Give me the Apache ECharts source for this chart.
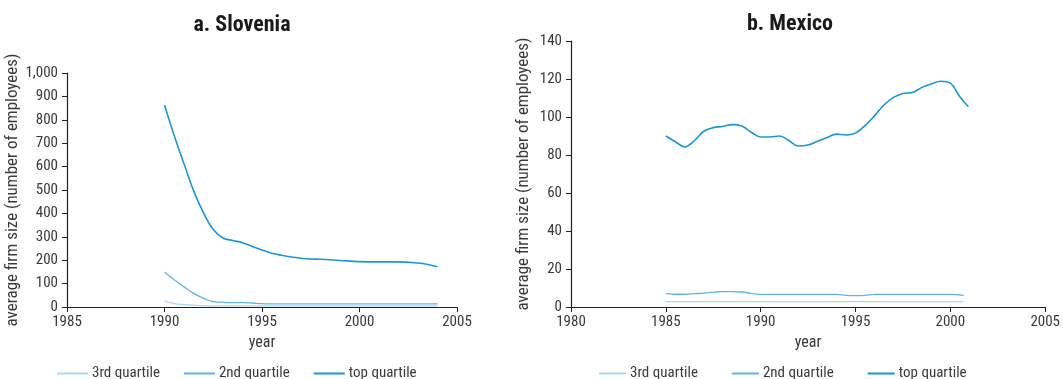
<!DOCTYPE html>
<html>
<head>
<meta charset="utf-8">
<script src="https://cdn.jsdelivr.net/npm/echarts@6/dist/echarts.min.js"></script>
<style>
html,body{margin:0;padding:0;background:#fff;}
#chart{width:1063px;height:379px;}
</style>
</head>
<body>
<div id="chart"></div>
<script>
// ---- data ----
const seriesNames = ['3rd quartile', '2nd quartile', 'top quartile'];
const xTicksSlovenia = [1985, 1990, 1995, 2000, 2005];
const xTicksMexico = [1980, 1985, 1990, 1995, 2000, 2005];

const sloYears = [1990, 1990.5, 1991, 1991.5, 1992, 1992.5, 1993, 1993.5, 1994, 1994.5, 1995, 1995.5, 1996, 1996.5, 1997, 1997.5, 1998, 1999, 2000, 2001, 2002, 2003, 2003.5, 2004];
const sloTop = [863, 732, 612, 495, 402, 331, 295, 284, 275, 259, 244, 230, 221, 214, 208, 205, 204, 199, 194, 193, 193, 188, 182, 172];
const slo2nd = [150, 116, 86, 58, 37, 23, 20, 19, 19, 17, 14, 13, 13, 13, 13, 13, 13, 13, 13, 13, 13, 13, 13, 13];
const slo3rd = [26, 14, 10, 8, 6, 5, 5, 5, 5, 5, 5, 5, 5, 5, 5, 5, 5, 5, 5, 5, 5, 5, 5, 5];

const mexTopYears = [1985, 1985.5, 1986, 1986.5, 1987, 1987.5, 1988, 1988.5, 1989, 1989.5, 1990, 1990.5, 1991, 1991.5, 1992, 1992.5, 1993, 1993.5, 1994, 1994.5, 1995, 1995.5, 1996, 1996.5, 1997, 1997.5, 1998, 1998.5, 1999, 1999.5, 2000, 2000.5, 2000.95];
const mexTop = [90.0, 87.0, 84.3, 87.5, 92.5, 94.4, 95.0, 96.0, 95.3, 92.0, 89.5, 89.5, 90.0, 87.5, 84.7, 85.3, 87.2, 89.2, 91.0, 90.5, 91.5, 95.5, 100.6, 106.3, 110.3, 112.4, 112.9, 115.6, 117.4, 118.8, 117.8, 110.7, 105.4];
const mexLowYears = [1985, 1985.5, 1986, 1986.5, 1987, 1987.5, 1988, 1988.5, 1989, 1989.5, 1990, 1991, 1992, 1993, 1994, 1994.5, 1995, 1995.5, 1996, 1997, 1998, 1999, 2000, 2000.7];
const mex2nd = [7.2, 6.7, 6.7, 7.0, 7.3, 7.8, 8.1, 8.1, 7.9, 7.2, 6.6, 6.6, 6.6, 6.6, 6.6, 6.1, 6.0, 6.1, 6.6, 6.6, 6.6, 6.6, 6.6, 6.1];
const mex3rd = [2.8, 2.8, 2.8, 2.8, 2.8, 2.8, 2.8, 2.8, 2.8, 2.8, 2.8, 2.8, 2.8, 2.8, 2.8, 2.8, 2.8, 2.8, 2.8, 2.8, 2.8, 2.8, 2.8, 2.8];

// ---- styling ----
const FONT = "'Liberation Sans Narrow', 'Roboto Condensed', 'Liberation Sans', sans-serif";
const TXT = '#3a3a3a';
const AX = '#231f20';
const colors = {'3rd quartile': '#acd6f1', '2nd quartile': '#63b3e5', 'top quartile': '#1b97d5'};
const widths = {'3rd quartile': 1.3, '2nd quartile': 1.3, 'top quartile': 1.6};

function zip(xs, ys) { return xs.map((x, i) => [x, ys[i]]); }

function xAxis(gi, min, max) {
  return {
    type: 'value', gridIndex: gi, min: min, max: max, interval: 5,
    name: 'year', nameLocation: 'middle', nameGap: 24,
    nameTextStyle: {fontFamily: FONT, fontSize: 16, color: TXT},
    axisLine: {show: true, onZero: false, lineStyle: {color: AX, width: 1.2}},
    axisTick: {show: true, length: 5, lineStyle: {color: AX}},
    axisLabel: {fontFamily: FONT, fontSize: 15, color: TXT, margin: 8, formatter: v => String(v)},
    splitLine: {show: false}
  };
}
function yAxis(gi, max, interval, gap) {
  return {
    type: 'value', gridIndex: gi, min: 0, max: max, interval: interval,
    name: 'average firm size (number of employees)', nameLocation: 'middle', nameGap: gap,
    nameTextStyle: {fontFamily: FONT, fontSize: 17, color: TXT},
    axisLine: {show: true, lineStyle: {color: AX, width: 1.2}},
    axisTick: {show: true, length: 5, lineStyle: {color: AX}},
    axisLabel: {fontFamily: FONT, fontSize: 15, color: TXT, margin: 9},
    splitLine: {show: false}
  };
}
function line(name, gi, data) {
  return {
    name: name, type: 'line', xAxisIndex: gi, yAxisIndex: gi, data: data,
    smooth: 0.4, showSymbol: false, symbol: 'none', silent: true,
    lineStyle: {color: colors[name], width: widths[name]},
    itemStyle: {color: colors[name]}
  };
}
function legend(left, itemWidth, gap) {
  return {
    data: seriesNames, left: left, top: 366, orient: 'horizontal', padding: 0,
    itemWidth: itemWidth, itemHeight: 2, itemGap: gap, icon: 'rect',
    textStyle: {fontFamily: FONT, fontSize: 15, color: TXT, padding: [0, 0, 0, -1]}
  };
}

const chart = echarts.init(document.getElementById('chart'), null, {renderer: 'canvas'});
chart.setOption({
  animation: false,
  backgroundColor: '#fff',
  title: [
    {text: 'a. Slovenia', left: 237, top: 9, textAlign: 'center',
     textStyle: {fontFamily: FONT, fontSize: 22, fontWeight: 'bold', color: '#1a1a1a'}},
    {text: 'b. Mexico', left: 785, top: 8, textAlign: 'center',
     textStyle: {fontFamily: FONT, fontSize: 22, fontWeight: 'bold', color: '#1a1a1a'}}
  ],
  legend: [legend(57, 31, 24), legend(599, 27, 34)],
  grid: [
    {left: 67, width: 390, top: 73, height: 234, containLabel: false},
    {left: 571, width: 476, top: 41, height: 266, containLabel: false}
  ],
  xAxis: [xAxis(0, xTicksSlovenia[0], xTicksSlovenia[xTicksSlovenia.length - 1]),
          xAxis(1, xTicksMexico[0], xTicksMexico[xTicksMexico.length - 1])],
  yAxis: [yAxis(0, 1000, 100, 40), yAxis(1, 140, 20, 39)],
  series: [
    line('3rd quartile', 0, zip(sloYears, slo3rd)),
    line('2nd quartile', 0, zip(sloYears, slo2nd)),
    line('top quartile', 0, zip(sloYears, sloTop)),
    line('3rd quartile', 1, zip(mexLowYears, mex3rd)),
    line('2nd quartile', 1, zip(mexLowYears, mex2nd)),
    line('top quartile', 1, zip(mexTopYears, mexTop))
  ]
});
</script>
</body>
</html>
